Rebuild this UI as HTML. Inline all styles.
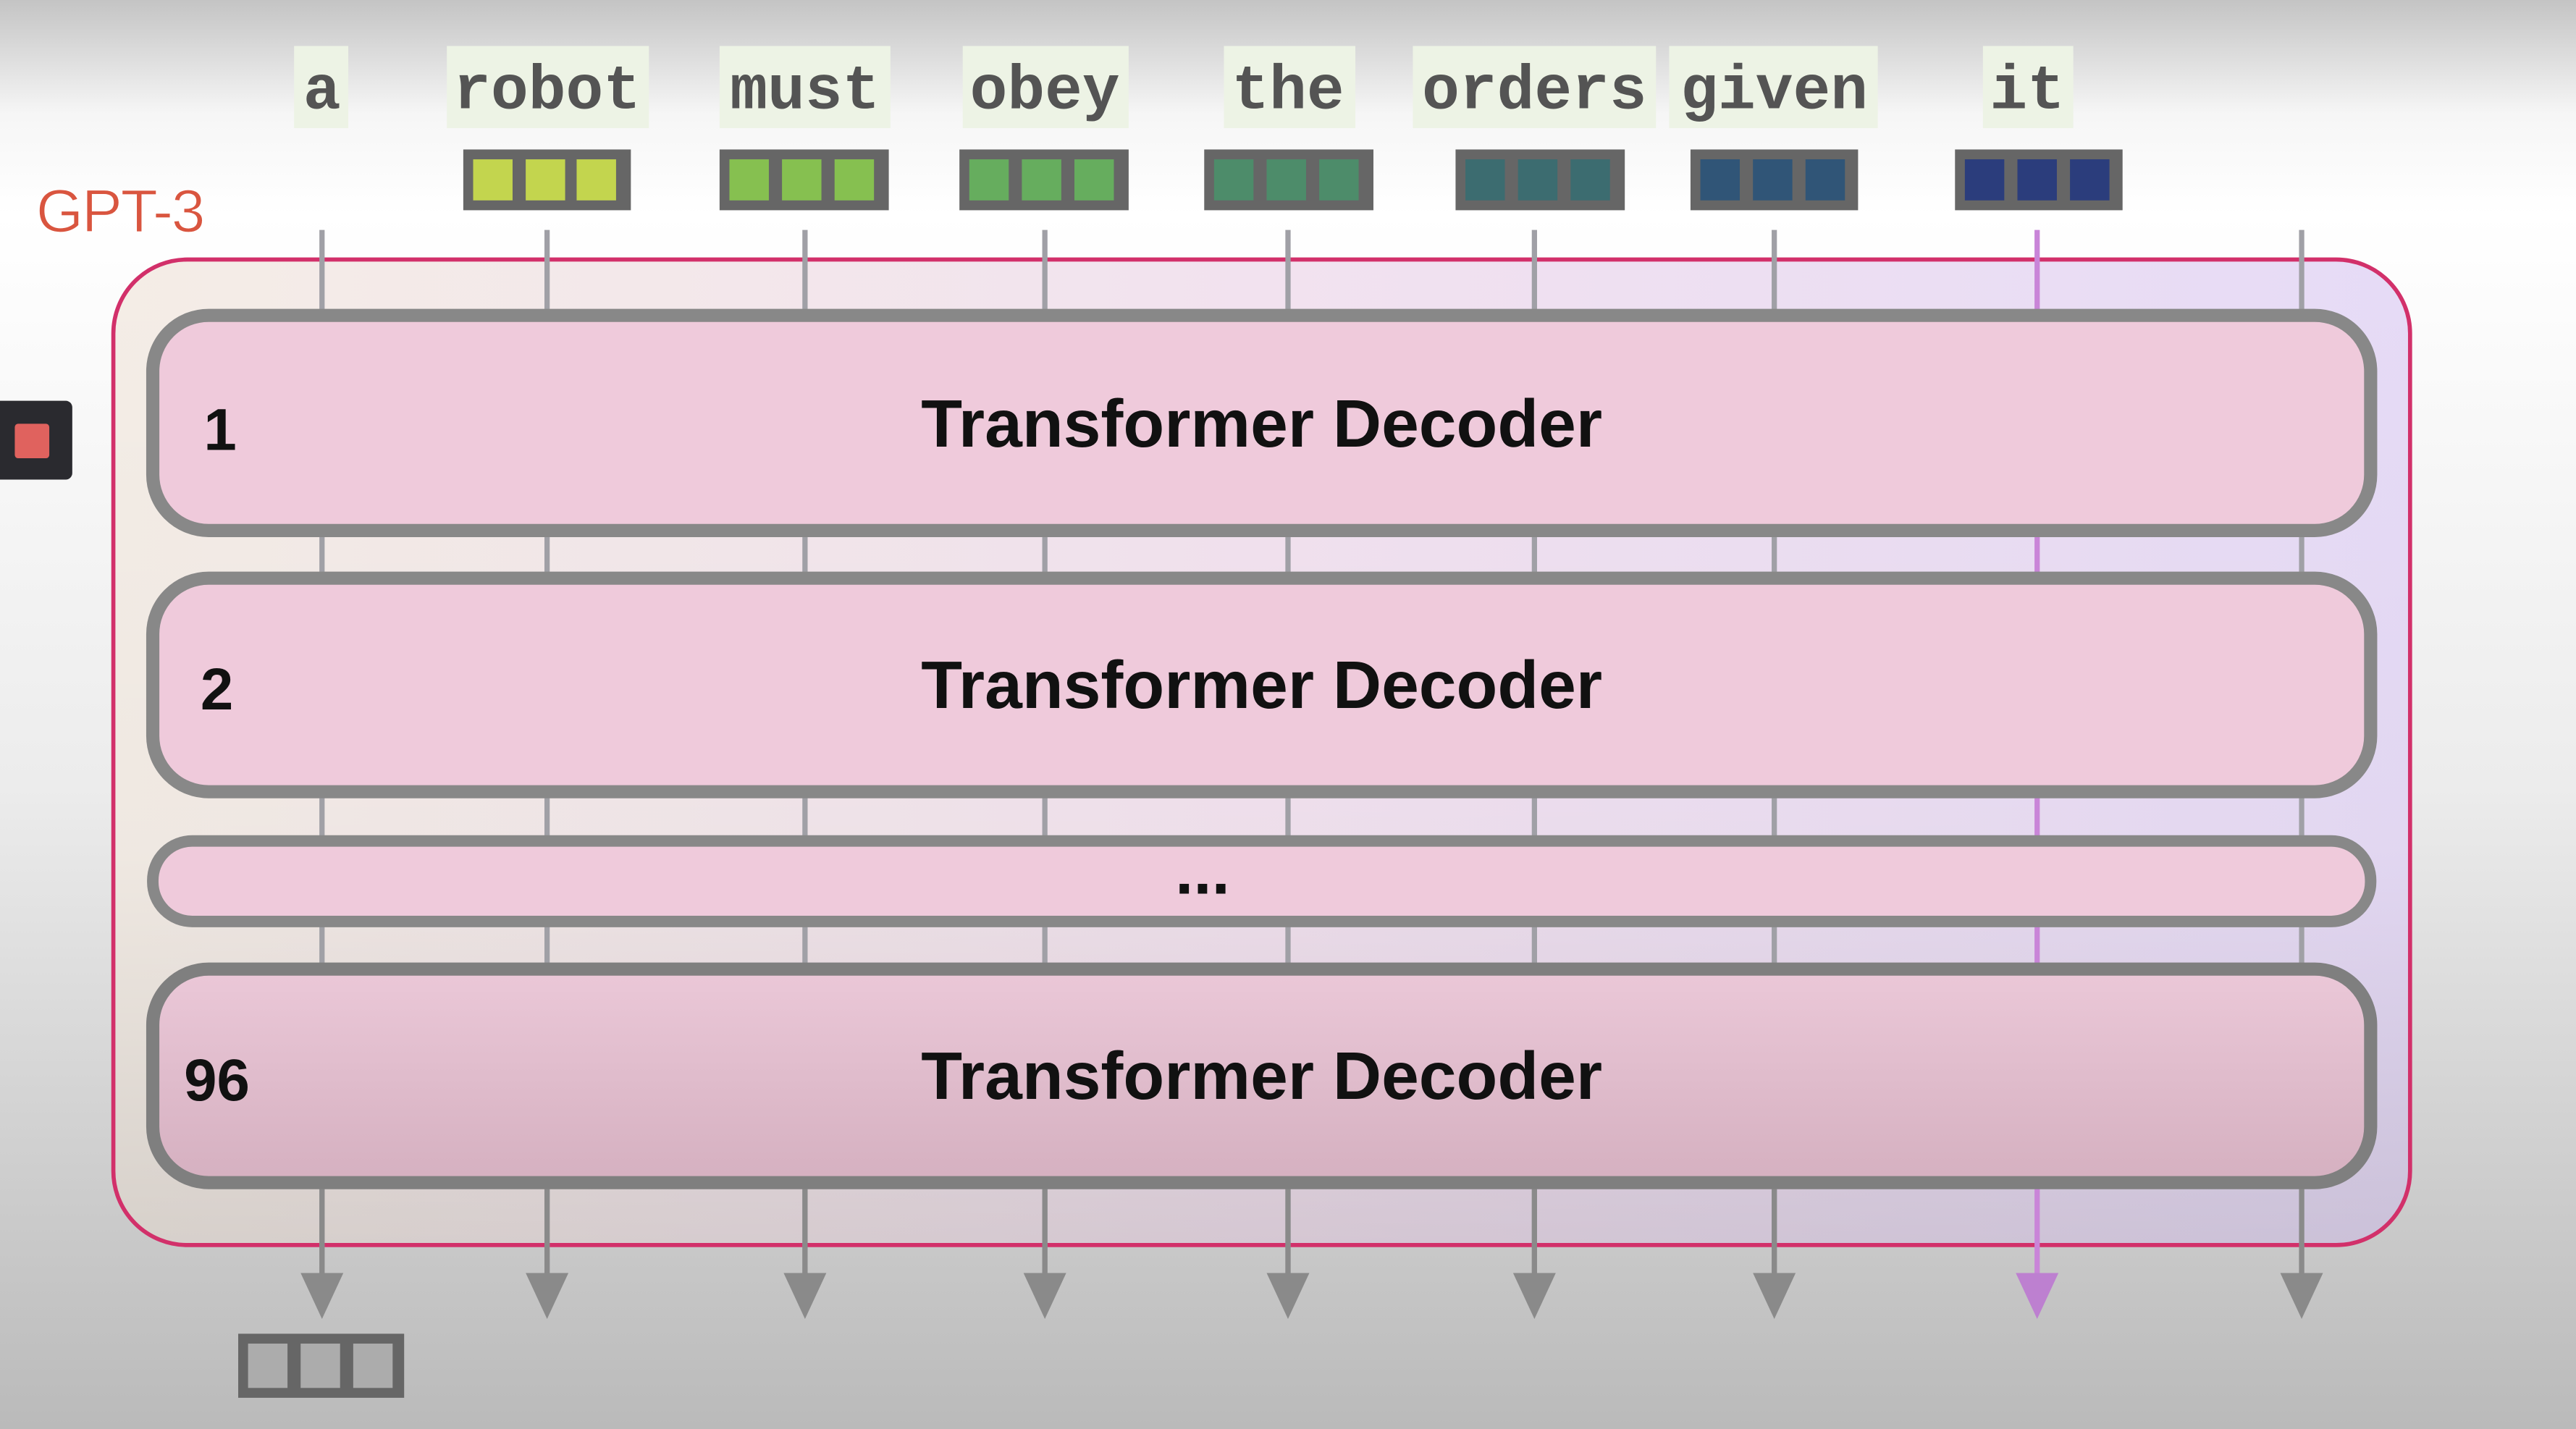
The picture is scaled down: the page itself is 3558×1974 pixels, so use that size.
<!DOCTYPE html>
<html><head><meta charset="utf-8"><style>
html,body{margin:0;padding:0;width:3558px;height:1974px;overflow:hidden}
svg{display:block}
</style></head><body>
<svg width="3558" height="1974" viewBox="0 0 1568 870" preserveAspectRatio="none" xmlns="http://www.w3.org/2000/svg">
<defs>
<linearGradient id="bg" x1="0" y1="0" x2="0" y2="1">
<stop offset="0" stop-color="#c4c4c4"/><stop offset="0.08" stop-color="#f6f6f6"/><stop offset="0.15" stop-color="#ffffff"/>
<stop offset="0.55" stop-color="#ececec"/><stop offset="1" stop-color="#bababa"/></linearGradient>
<linearGradient id="outerH" x1="0" y1="0" x2="1" y2="0">
<stop offset="0" stop-color="#f4ede6"/><stop offset="0.5" stop-color="#f2e2ef"/><stop offset="1" stop-color="#e6dbf6"/></linearGradient>
<linearGradient id="shade" x1="0" y1="0" x2="0" y2="1">
<stop offset="0" stop-color="#000" stop-opacity="0"/><stop offset="0.6" stop-color="#000" stop-opacity="0.02"/><stop offset="1" stop-color="#000" stop-opacity="0.12"/></linearGradient>
<linearGradient id="dec96" x1="0" y1="0" x2="0" y2="1">
<stop offset="0" stop-color="#ebc8d8"/><stop offset="1" stop-color="#d5b0c0"/></linearGradient>
</defs>
<rect width="1568" height="870" fill="url(#bg)"/>
<rect x="69" y="158" width="1398" height="600" rx="45" fill="url(#outerH)"/>
<rect x="69" y="158" width="1398" height="600" rx="45" fill="url(#shade)" stroke="#d2306a" stroke-width="2.5"/>
<g stroke="#a0a0a6" stroke-width="3.2">
<line x1="196" y1="140" x2="196" y2="780"/><line x1="333" y1="140" x2="333" y2="780"/>
<line x1="490" y1="140" x2="490" y2="780"/><line x1="636" y1="140" x2="636" y2="780"/>
<line x1="784" y1="140" x2="784" y2="780"/><line x1="934" y1="140" x2="934" y2="780"/>
<line x1="1080" y1="140" x2="1080" y2="780"/><line x1="1401" y1="140" x2="1401" y2="780"/>
</g>
<line x1="1240" y1="140" x2="1240" y2="780" stroke="#c985d8" stroke-width="3.2"/>
<g stroke="#8a8a8a" stroke-width="3.2"><line x1="196" y1="722" x2="196" y2="780"/><line x1="333" y1="722" x2="333" y2="780"/><line x1="490" y1="722" x2="490" y2="780"/><line x1="636" y1="722" x2="636" y2="780"/><line x1="784" y1="722" x2="784" y2="780"/><line x1="934" y1="722" x2="934" y2="780"/><line x1="1080" y1="722" x2="1080" y2="780"/><line x1="1401" y1="722" x2="1401" y2="780"/></g>
<g fill="#8a8a8a">
<polygon points="183,775 209,775 196,803"/><polygon points="320,775 346,775 333,803"/>
<polygon points="477,775 503,775 490,803"/><polygon points="623,775 649,775 636,803"/>
<polygon points="771,775 797,775 784,803"/><polygon points="921,775 947,775 934,803"/>
<polygon points="1067,775 1093,775 1080,803"/><polygon points="1388,775 1414,775 1401,803"/>
</g>
<polygon points="1227,775 1253,775 1240,803" fill="#bd80d0"/>
<rect x="93" y="192" width="1350" height="131" rx="34" fill="#efcadb" stroke="#888" stroke-width="8"/>
<rect x="93" y="352" width="1350" height="130" rx="34" fill="#efcadb" stroke="#888" stroke-width="8"/>
<rect x="93" y="512" width="1350" height="49" rx="24" fill="#efcadb" stroke="#888" stroke-width="7"/>
<rect x="93" y="590" width="1350" height="130" rx="34" fill="url(#dec96)" stroke="#7f7f7f" stroke-width="8"/>
<g font-family="Liberation Sans, sans-serif" font-weight="bold" fill="#111">
<text x="768" y="272" font-size="41" text-anchor="middle">Transformer Decoder</text>
<text x="768" y="431" font-size="41" text-anchor="middle">Transformer Decoder</text>
<text x="768" y="669" font-size="41" text-anchor="middle">Transformer Decoder</text>
<text x="124" y="274" font-size="36">1</text>
<text x="122" y="432" font-size="36">2</text>
<text x="112" y="670" font-size="36">96</text>
<text x="732" y="544" font-size="40" text-anchor="middle">...</text>
</g>
<g fill="#edf3e5">
<rect x="179" y="28" width="33" height="50"/><rect x="272" y="28" width="123" height="50"/>
<rect x="438" y="28" width="104" height="50"/><rect x="586" y="28" width="101" height="50"/>
<rect x="745" y="28" width="80" height="50"/><rect x="860" y="28" width="148" height="50"/>
<rect x="1016" y="28" width="127" height="50"/><rect x="1207" y="28" width="55" height="50"/>
</g>
<g font-family="Liberation Mono, monospace" font-weight="bold" font-size="38" fill="#545454" text-anchor="middle">
<text x="196" y="66">a</text><text x="333" y="66">robot</text><text x="490" y="66">must</text>
<text x="636" y="66">obey</text><text x="784" y="66">the</text><text x="934" y="66">orders</text>
<text x="1080" y="66">given</text><text x="1234" y="66">it</text>
</g>
<g>
<rect x="282" y="91" width="102" height="37" fill="#666"/>
<rect x="438" y="91" width="103" height="37" fill="#666"/>
<rect x="584" y="91" width="103" height="37" fill="#666"/>
<rect x="733" y="91" width="103" height="37" fill="#666"/>
<rect x="886" y="91" width="103" height="37" fill="#666"/>
<rect x="1029" y="91" width="102" height="37" fill="#666"/>
<rect x="1190" y="91" width="102" height="37" fill="#666"/>
</g>
<g>
<g fill="#c3d54e"><rect x="288" y="97" width="24" height="25"/><rect x="320" y="97" width="24" height="25"/><rect x="351" y="97" width="24" height="25"/></g>
<g fill="#86c050"><rect x="444" y="97" width="24" height="25"/><rect x="476" y="97" width="24" height="25"/><rect x="508" y="97" width="24" height="25"/></g>
<g fill="#66ad5e"><rect x="590" y="97" width="24" height="25"/><rect x="622" y="97" width="24" height="25"/><rect x="654" y="97" width="24" height="25"/></g>
<g fill="#4d8c6a"><rect x="739" y="97" width="24" height="25"/><rect x="771" y="97" width="24" height="25"/><rect x="803" y="97" width="24" height="25"/></g>
<g fill="#3c6c70"><rect x="892" y="97" width="24" height="25"/><rect x="924" y="97" width="24" height="25"/><rect x="956" y="97" width="24" height="25"/></g>
<g fill="#305577"><rect x="1035" y="97" width="24" height="25"/><rect x="1067" y="97" width="24" height="25"/><rect x="1099" y="97" width="24" height="25"/></g>
<g fill="#2b3d7c"><rect x="1196" y="97" width="24" height="25"/><rect x="1228" y="97" width="24" height="25"/><rect x="1260" y="97" width="24" height="25"/></g>
</g>
<rect x="145" y="812" width="101" height="39" fill="#666"/>
<g fill="#acacac"><rect x="151" y="818" width="24" height="27"/><rect x="183" y="818" width="24" height="27"/><rect x="215" y="818" width="24" height="27"/></g>
<text x="22" y="141" font-family="Liberation Sans, sans-serif" font-size="37" fill="#d9553f" stroke="#fff" stroke-width="0.6" letter-spacing="-1">GPT-3</text>
<rect x="-6" y="244" width="50" height="48" rx="4" fill="#2a2a2f"/>
<rect x="9" y="258" width="21" height="21" rx="2" fill="#e0625e"/>
</svg>
</body></html>
